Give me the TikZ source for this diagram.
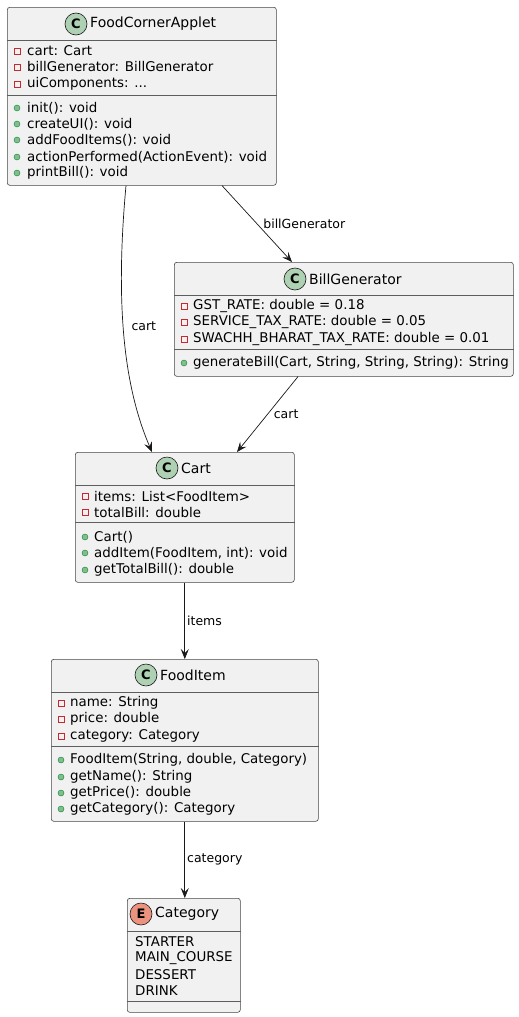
\documentclass[tikz,border=0pt]{standalone}
\usepackage{fontspec}
\setmainfont{DejaVu Sans}
\usetikzlibrary{arrows.meta}
\definecolor{boxfill}{HTML}{F1F1F1}
\definecolor{boxline}{HTML}{181818}
\definecolor{cfill}{HTML}{ADD1B2}
\definecolor{efill}{HTML}{EB937F}
\definecolor{privred}{HTML}{C82930}
\definecolor{pubfill}{HTML}{84BE84}
\definecolor{publine}{HTML}{038048}
\begin{document}
\begin{tikzpicture}[
	x = 1pt, y = -1pt,
	classbox/.style = {draw = boxline!80, fill = boxfill, rounded corners = 2.5pt,
		line width = 0.6pt, anchor = north west, inner sep = 0},
	sep/.style = {draw = boxline!70, line width = 0.6pt},
	cname/.style = {anchor = west, inner sep = 0, font = \fontsize{14}{16}\selectfont},
	member/.style = {anchor = west, inner sep = 0, font = \fontsize{13.4}{16}\selectfont},
	icon/.style = {circle, draw = boxline, line width = 0.6pt, minimum size = 22pt, inner sep = 0,
		font = \fontsize{13}{13}\selectfont\bfseries},
	cicon/.style = {icon, fill = cfill},
	eicon/.style = {icon, fill = efill},
	priv/.style = {rectangle, draw = privred, line width = 0.6pt, minimum size = 6pt, inner sep = 0},
	pub/.style = {circle, draw = publine, fill = pubfill, line width = 0.4pt, minimum size = 6pt, inner sep = 0},
	assoc/.style = {draw = boxline, line width = 0.7pt, -{Stealth[length = 10pt, width = 8pt, inset = 4pt]}},
	lbl/.style = {inner sep = 2pt, font = \fontsize{12.5}{14}\selectfont}
	]
	
	\useasboundingbox (0,0) rectangle (519,1017);
	
	% FoodCornerApplet
	\node[classbox, minimum width = 269pt, minimum height = 178pt] (fca) at (7,7) {};
	\node[cicon] (fcaC) at (76,24) {C};
	\node[cname] (fcaName) at (90,24) {FoodCornerApplet};
	\draw[sep] (fca.west |- 0,40) -- (fca.east |- 0,40);
	\draw[sep] (fca.west |- 0,95) -- (fca.east |- 0,95);
	\node[priv] at (17,51) {};  \node[member] at (27,51) {cart: Cart};
	\node[priv] at (17,67) {};  \node[member] at (27,67) {billGenerator: BillGenerator};
	\node[priv] at (17,84) {};  \node[member] at (27,84) {uiComponents: ...};
	\node[pub] at (17,108) {};  \node[member] at (27,108) {init(): void};
	\node[pub] at (17,124) {};  \node[member] at (27,124) {createUI(): void};
	\node[pub] at (17,140) {};  \node[member] at (27,140) {addFoodItems(): void};
	\node[pub] at (17,157) {};  \node[member] at (27,157) {actionPerformed(ActionEvent): void};
	\node[pub] at (17,173) {};  \node[member] at (27,173) {printBill(): void};
	
	% BillGenerator
	\node[classbox, minimum width = 339pt, minimum height = 114pt] (bill) at (174,262) {};
	\node[cicon] (billC) at (295,279) {C};
	\node[cname] (billName) at (309,279) {BillGenerator};
	\draw[sep] (bill.west |- 0,295) -- (bill.east |- 0,295);
	\draw[sep] (bill.west |- 0,349) -- (bill.east |- 0,349);
	\node[priv] at (184,306) {};  \node[member] at (193,306) {GST\_RATE: double = 0.18};
	\node[priv] at (184,322) {};  \node[member] at (193,322) {SERVICE\_TAX\_RATE: double = 0.05};
	\node[priv] at (184,339) {};  \node[member] at (193,339) {SWACHH\_BHARAT\_TAX\_RATE: double = 0.01};
	\node[pub] at (184,363) {};   \node[member] at (193,363) {generateBill(Cart, String, String, String): String};
	
	% Cart
	\node[classbox, minimum width = 219pt, minimum height = 130pt] (cart) at (75,452) {};
	\node[cicon] (cartC) at (167,468) {C};
	\node[cname] (cartName) at (181,468) {Cart};
	\draw[sep] (cart.west |- 0,485) -- (cart.east |- 0,485);
	\draw[sep] (cart.west |- 0,522) -- (cart.east |- 0,522);
	\node[priv] at (85,496) {};  \node[member] at (94,496) {items: List<FoodItem>};
	\node[priv] at (85,512) {};  \node[member] at (94,512) {totalBill: double};
	\node[pub] at (85,537) {};   \node[member] at (94,537) {Cart()};
	\node[pub] at (85,553) {};   \node[member] at (94,553) {addItem(FoodItem, int): void};
	\node[pub] at (85,570) {};   \node[member] at (94,570) {getTotalBill(): double};
	
	% FoodItem
	\node[classbox, minimum width = 267pt, minimum height = 162pt] (item) at (51,659) {};
	\node[cicon] (itemC) at (146,675) {C};
	\node[cname] (itemName) at (160,675) {FoodItem};
	\draw[sep] (item.west |- 0,692) -- (item.east |- 0,692);
	\draw[sep] (item.west |- 0,746) -- (item.east |- 0,746);
	\node[priv] at (61,703) {};  \node[member] at (70,703) {name: String};
	\node[priv] at (61,719) {};  \node[member] at (70,719) {price: double};
	\node[priv] at (61,736) {};  \node[member] at (70,736) {category: Category};
	\node[pub] at (61,760) {};   \node[member] at (70,760) {FoodItem(String, double, Category)};
	\node[pub] at (61,777) {};   \node[member] at (70,777) {getName(): String};
	\node[pub] at (61,793) {};   \node[member] at (70,793) {getPrice(): double};
	\node[pub] at (61,809) {};   \node[member] at (70,809) {getCategory(): Category};
	
	% Category
	\node[classbox, minimum width = 113pt, minimum height = 114pt] (cat) at (127,898) {};
	\node[eicon] (catE) at (141,914) {E};
	\node[cname] (catName) at (155,914) {Category};
	\draw[sep] (cat.west |- 0,931) -- (cat.east |- 0,931);
	\draw[sep] (cat.west |- 0,1001) -- (cat.east |- 0,1001);
	\node[member] at (135,942) {STARTER};
	\node[member] at (135,958) {MAIN\_COURSE};
	\node[member] at (135,975) {DESSERT};
	\node[member] at (135,991) {DRINK};
	
	% associations
	\draw[assoc] ([xshift = 119pt]fca.south west) .. controls +(-11,120) and +(-28,-65) ..
		node[lbl, right, pos = 0.45, xshift = 6pt] (lblCartA) {cart} ([xshift = 77pt]cart.north west);
	\draw[assoc] ([xshift = 215pt]fca.south west) --
		node[lbl, right, pos = 0.5, xshift = 4pt] (lblBill) {billGenerator} ([xshift = 118pt]bill.north west);
	\draw[assoc] ([xshift = 124pt]bill.south west) --
		node[lbl, right, pos = 0.5, xshift = 4pt] (lblCartB) {cart} ([xshift = 162pt]cart.north west);
	\draw[assoc] (cart.south) -- node[lbl, right] (lblItems) {items} (item.north);
	\draw[assoc] (item.south) -- node[lbl, right] (lblCat) {category} (item.south |- cat.north);
	
\end{tikzpicture}
\end{document}
